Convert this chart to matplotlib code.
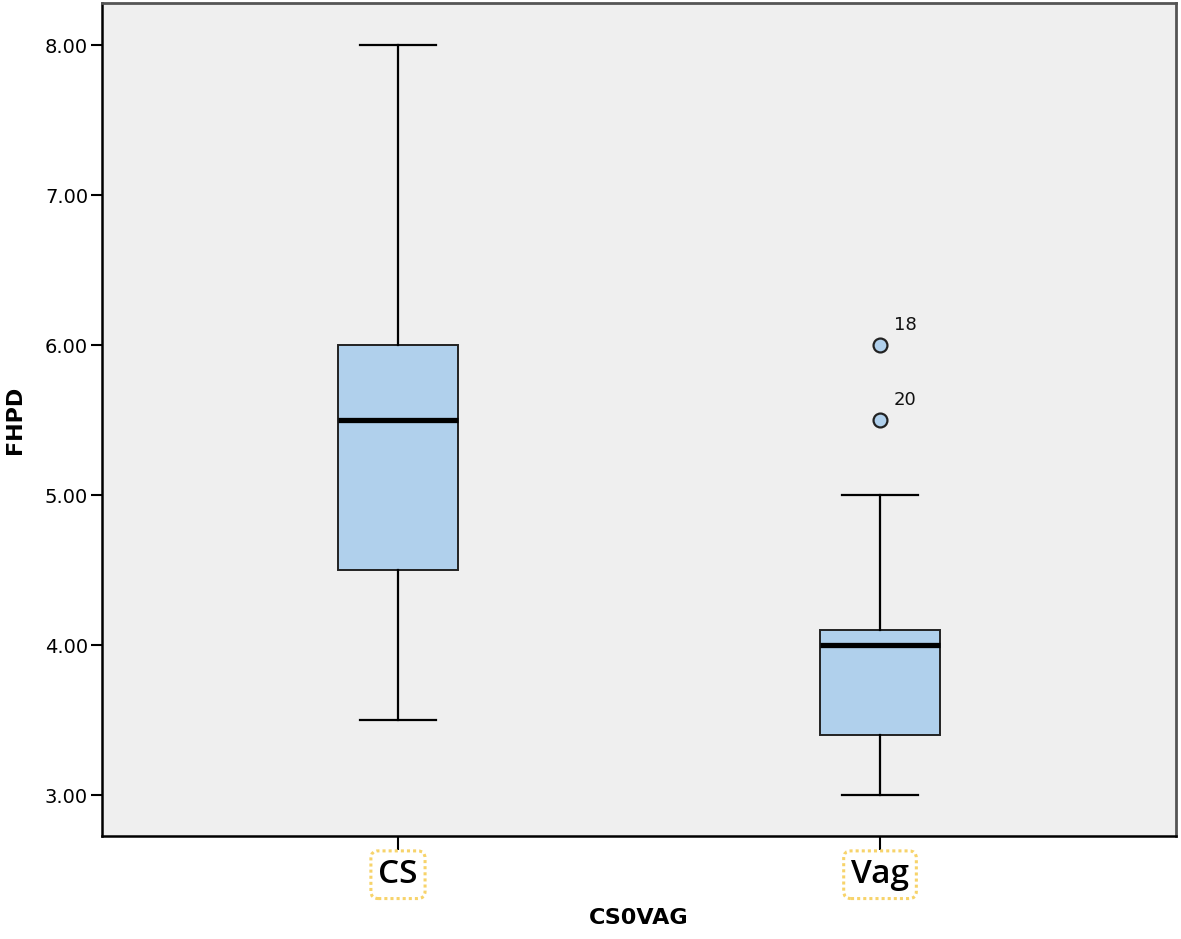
import matplotlib
matplotlib.use("Agg")
import matplotlib.pyplot as plt

groups = ["CS", "Vag"]
whislo = [3.5, 3.0]
q1 = [4.5, 3.4]
med = [5.5, 4.0]
q3 = [6.0, 4.1]
whishi = [8.0, 5.0]
fliers = [[], [6.0, 5.5]]
flier_ids = [[], ["18", "20"]]
yticks = [3, 4, 5, 6, 7, 8]

stats = []
for i, g in enumerate(groups):
    stats.append(dict(label=g, whislo=whislo[i], q1=q1[i], med=med[i],
                      q3=q3[i], whishi=whishi[i], fliers=fliers[i]))

fig = plt.figure(figsize=(11.81, 9.39), dpi=100)
ax = fig.add_axes([102 / 1181, 1 - 836 / 939, (1176 - 102) / 1181, (836 - 3) / 939])
ax.set_facecolor("#efefef")

pos = [1, 2]
ax.bxp(stats, positions=pos, widths=0.249, patch_artist=True, showfliers=True,
       boxprops=dict(facecolor="#b0d0ec", edgecolor="#222222", linewidth=1.4),
       medianprops=dict(color="black", linewidth=3.8),
       whiskerprops=dict(color="black", linewidth=1.6),
       capprops=dict(color="black", linewidth=1.6), capwidths=0.158,
       flierprops=dict(marker="o", markerfacecolor="#b0d0ec", markeredgecolor="#222222",
                       markersize=10, markeredgewidth=1.6))

for i, p in enumerate(pos):
    for v, lab in zip(fliers[i], flier_ids[i]):
        ax.annotate(lab, (p, v), xytext=(10, 8), textcoords="offset points",
                    fontsize=13, color="#111111", va="bottom", ha="left")

ax.set_xlim(0.386, 2.614)
ax.set_ylim(2.727, 8.28)
ax.set_yticks(yticks)
ax.set_yticklabels(["%.2f" % t for t in yticks], fontsize=14)
ax.set_xticks(pos)
ax.set_xticklabels(groups, fontsize=24, fontfamily="Open Sans", fontweight="semibold")
for t in ax.get_xticklabels():
    t.set_bbox(dict(boxstyle="round,pad=0.22", facecolor="white", edgecolor="#f7d36a",
                    linestyle=(0, (1, 1)), linewidth=2.2))
ax.tick_params(axis="y", length=8, width=1.5, pad=2)
ax.tick_params(axis="x", length=10, width=1.5, pad=6)

for s in ["left", "bottom"]:
    ax.spines[s].set_color("black")
    ax.spines[s].set_linewidth(1.8)
for s in ["top", "right"]:
    ax.spines[s].set_color("#555555")
    ax.spines[s].set_linewidth(2)

ax.set_ylabel("FHPD", fontsize=16, fontweight="bold", labelpad=14)
ax.set_xlabel("CS0VAG", fontsize=16, fontweight="bold", labelpad=12)

fig.savefig("out.png", dpi=100)
